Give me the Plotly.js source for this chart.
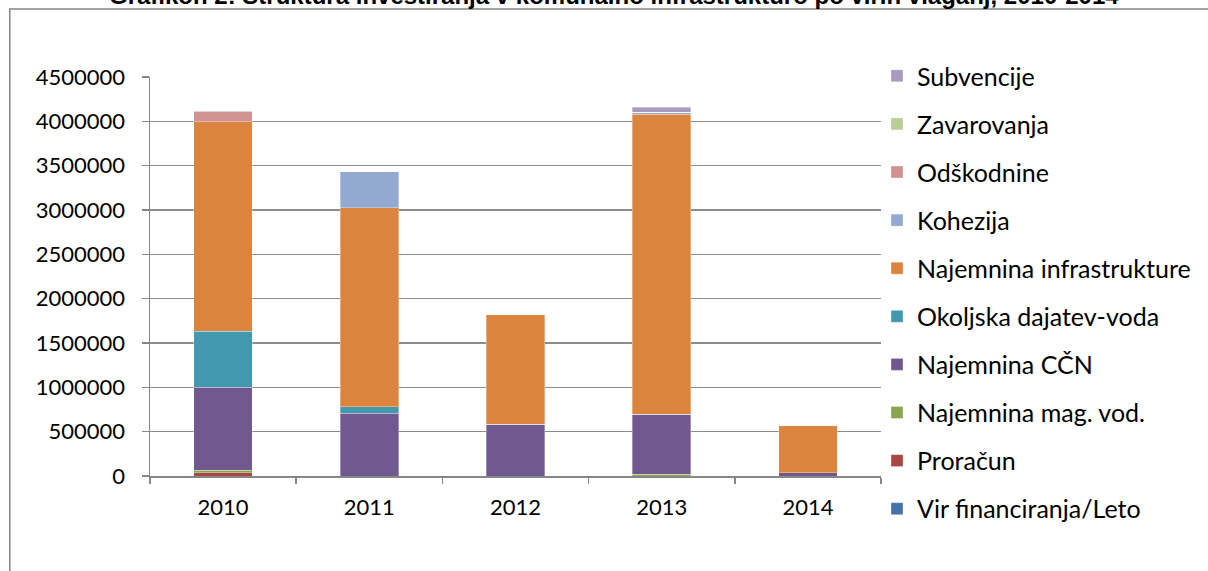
<!DOCTYPE html>
<html>
<head>
<meta charset="utf-8">
<script src="https://cdn.plot.ly/plotly-3.0.1.min.js"></script>
<style>html,body{margin:0;padding:0;background:#fff;}#chart{width:1208px;height:571px;}</style>
</head>
<body>
<div id="chart"></div>
<script>
const years = ['2010', '2011', '2012', '2013', '2014'];
// series in stacking order (bottom to top)
const virFinanciranja = [0, 0, 0, 0, 0];
const proracun = [35000, 0, 0, 0, 0];
const najemninaMagVod = [30000, 0, 0, 20000, 0];
const najemninaCCN = [935000, 706000, 582000, 675000, 34000];
const okoljskaDajatev = [630000, 76000, 0, 0, 0];
const najemninaInfra = [2364000, 2244000, 1245000, 3384000, 533000];
const kohezija = [0, 406000, 0, 22000, 0];
const odskodnine = [118000, 0, 0, 0, 0];
const zavarovanja = [6000, 0, 0, 0, 0];
const subvencije = [0, 0, 0, 59000, 0];

const seriesNames = ['Vir financiranja/Leto', 'Proračun', 'Najemnina mag. vod.', 'Najemnina CČN',
  'Okoljska dajatev-voda', 'Najemnina infrastrukture', 'Kohezija', 'Odškodnine', 'Zavarovanja', 'Subvencije'];
const seriesValues = [virFinanciranja, proracun, najemninaMagVod, najemninaCCN, okoljskaDajatev,
  najemninaInfra, kohezija, odskodnine, zavarovanja, subvencije];
const seriesColors = ['#4572A7', '#AA4643', '#89A54E', '#71588F', '#4198AF',
  '#DB843D', '#93A9CF', '#D19392', '#B9CD96', '#A99BBD'];

const traces = seriesNames.map((n, i) => ({
  type: 'bar',
  name: n,
  x: years,
  y: seriesValues[i],
  legendgroup: 'g' + i,
  legendrank: seriesNames.length - i,
  marker: {color: seriesColors[i], line: {width: 0.6, color: 'rgba(255,255,255,0.55)'}},
  hoverinfo: 'name+y'
}));

const font = 'Lato, "Open Sans", sans-serif';
const layout = {
  width: 1208, height: 571,
  margin: {l: 150, r: 323, t: 77, b: 95},
  paper_bgcolor: '#ffffff', plot_bgcolor: '#ffffff',
  barmode: 'stack', bargap: 0.6,
  font: {family: font, size: 22, color: '#000000'},
  showlegend: true,
  legend: {
    x: 1 - 4 / 735, xanchor: 'left', y: 1.045 + 6 / 399, yanchor: 'top',
    traceorder: 'grouped', tracegroupgap: 12.6, maxheight: 560,
    font: {family: font, size: 25, color: '#000000'},
    bgcolor: 'rgba(0,0,0,0)', borderwidth: 0
  },
  xaxis: {
    type: 'category',
    tickson: 'boundaries', ticks: 'outside', ticklen: 6, tickcolor: '#868686', tickwidth: 1.5,
    showline: true, linecolor: '#868686', linewidth: 1.5,
    showgrid: false, zeroline: false,
    ticklabelstandoff: 11,
    tickfont: {family: font, size: 22, color: '#000000'}
  },
  yaxis: {
    range: [0, 4500000], dtick: 500000, tickformat: 'd',
    ticks: 'outside', ticklen: 7, tickcolor: '#868686', tickwidth: 1.5,
    showline: true, linecolor: '#868686', linewidth: 1.5,
    showgrid: true, gridcolor: '#8c8c8c', gridwidth: 1.5,
    zeroline: false,
    ticklabelstandoff: 12,
    tickfont: {family: font, size: 22, color: '#000000'}
  },
  shapes: [{
    type: 'rect', xref: 'paper', yref: 'paper',
    x0: (9 - 150) / 735, x1: 1.6, y0: -0.5, y1: (476 - 9) / 399,
    line: {color: '#868686', width: 1.5}, fillcolor: 'rgba(0,0,0,0)', layer: 'below'
  }],
  annotations: [{
    xref: 'paper', yref: 'paper', x: (617 - 150) / 735, y: (476 - 11) / 399,
    xanchor: 'center', yanchor: 'bottom', showarrow: false,
    text: '<b>Grafikon 2: Struktura investiranja v komunalno infrastrukturo po virih vlaganj, 2010-2014</b>',
    font: {family: 'Liberation Sans, Arial, sans-serif', size: 24, color: '#000000'}
  }]
};

Plotly.newPlot('chart', traces, layout, {displayModeBar: false, staticPlot: true});
</script>
</body>
</html>
